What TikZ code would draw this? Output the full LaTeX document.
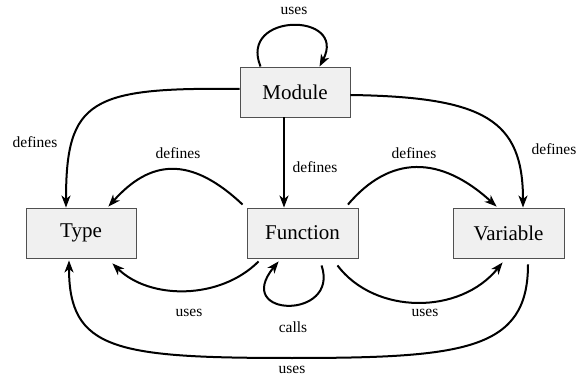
\documentclass[tikz,border=0pt]{standalone}
\usepackage{fontspec}
\setmainfont{Liberation Serif}
\usetikzlibrary{arrows.meta,calc}
\definecolor{boxfill}{HTML}{F0F0F0}
\definecolor{boxline}{HTML}{505050}
\tikzset{
  entity/.style={draw=boxline, line width=0.9pt, fill=boxfill, minimum width=110pt, minimum height=50pt, inner sep=0pt, font=\fontsize{21}{24}\selectfont},
  rel/.style={line width=2pt, -{Stealth[length=12pt,width=9pt,inset=3.5pt]}},
  lbl/.style={font=\fontsize{15.5}{18}\selectfont, inner sep=0pt}
}
\begin{document}
\begin{tikzpicture}[x=1pt,y=-1pt]
\useasboundingbox (0,0) rectangle (581,379);
\node[entity] (module) at (295,92) {Module};
\node[entity] (type) at (81,233) {Type};
\node[entity, minimum width=111pt] (function) at (302.5,233) {Function};
\node[entity, minimum width=111pt] (variable) at (508.5,233) {Variable};

% Module self loop
\draw[rel] ($(module.north west)+(21,0)$) .. controls (238,12) and (348,12) .. ($(module.north west)+(80,0)$);
% Module -> Type
\draw[rel] ($(module.west)+(0,-3)$) .. controls (90,87) and (66,100) .. ($(type.north)+(-15,0)$);
% Module -> Variable
\draw[rel] ($(module.east)+(0,3)$) .. controls (485,97) and (523,120) .. ($(variable.north)+(14.5,0)$);
% Module -> Function
\coordinate (mf) at ($(module.south)+(-11,0)$);
\draw[rel] (mf) -- (mf |- function.north);
% Function -> Type defines
\draw[rel] ($(function.north west)+(-4,-3)$) .. controls (190,155) and (150,160) .. ($(type.north east)+(-28,-1)$);
% Function -> Variable defines
\draw[rel] ($(function.north east)+(-10.5,-3)$) .. controls (390,155) and (440,155) .. ($(variable.north west)+(44,-1)$);
% Function -> Type uses
\draw[rel] ($(function.south west)+(12,3)$) .. controls (220,300) and (150,300) .. ($(type.south east)+(-24,5)$);
% Function calls self
\draw[rel] ($(function.south west)+(75,7)$) .. controls (340,320) and (232,318) .. ($(function.south west)+(32,3)$);
% Function -> Variable uses
\draw[rel] ($(function.south east)+(-21,7)$) .. controls (375,315) and (460,315) .. ($(variable.south west)+(50,4)$);
% Variable -> Type uses
\coordinate (bot) at (292,358);
\draw[line width=2pt] ($(variable.south)+(19.5,6)$) .. controls (528,350) and (465,358) .. (bot);
\draw[rel] (bot) .. controls (115,358) and (69,350) .. ($(type.south)+(-12,2)$);

% labels
\node[lbl] (l1) at (294,11) {uses};
\node[lbl] (l2) at (35,142) {defines};
\node[lbl] (l3) at (178,153) {defines};
\node[lbl] (l4) at (315,167) {defines};
\node[lbl] (l5) at (414,153) {defines};
\node[lbl] (l6) at (554,149) {defines};
\node[lbl] (l7) at (189,313) {uses};
\node[lbl] (l8) at (293,327) {calls};
\node[lbl] (l9) at (425,313) {uses};
\node[lbl] (l10) at (292,370) {uses};
\end{tikzpicture}
\end{document}
